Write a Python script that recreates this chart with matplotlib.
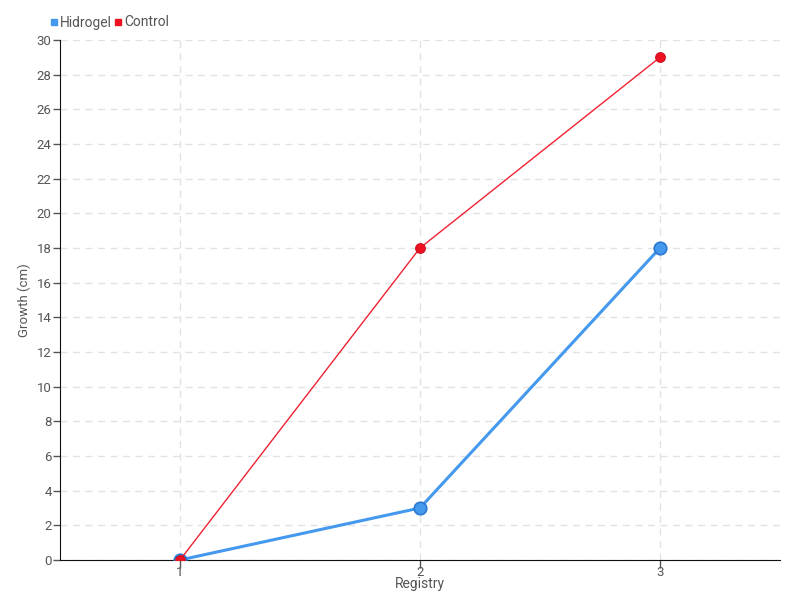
import matplotlib.pyplot as plt
from matplotlib.lines import Line2D

registry = [1, 2, 3]
hidrogel = [0, 3, 18]
control = [0, 18, 29]
y_ticks = list(range(0, 31, 2))

plt.rcParams['font.family'] = ['Roboto', 'DejaVu Sans']

fig = plt.figure(figsize=(8, 6), dpi=100)
ax = fig.add_axes([0.075, 0.0667, 0.9, 0.8667])

ax.plot(registry, hidrogel, color='#4499ee', linewidth=2.2, marker='o',
        markersize=9, markerfacecolor='#4499ee', markeredgecolor='#2a78d0',
        markeredgewidth=1.2, zorder=3)
ax.plot(registry, control, color='#ee2233', linewidth=1, marker='o',
        markersize=7, markerfacecolor='#ee1122', markeredgecolor='#cc1122',
        markeredgewidth=0.8, zorder=4)

ax.set_xlim(0.5, 3.5)
ax.set_ylim(0, 30)
ax.set_xticks(registry)
ax.set_yticks(y_ticks)
ax.tick_params(colors='#555555', labelsize=9.5, length=5, width=1)
ax.tick_params(axis='x', pad=-2, length=6)
ax.tick_params(axis='y', pad=1)
ax.grid(True, linestyle=(0, (5, 4)), color='#e2e2e2', linewidth=1)
ax.set_axisbelow(True)
for s in ['top', 'right']:
    ax.spines[s].set_visible(False)
ax.spines['left'].set_color('#111111')
ax.spines['bottom'].set_color('#111111')

ax.set_xlabel('Registry', color='#555555', fontsize=10, labelpad=-1)
ax.set_ylabel('Growth (cm)', color='#555555', fontsize=9.5)
ax.yaxis.set_label_coords(-0.04, 0.5)

handles = [Line2D([], [], linestyle='none', marker='s', markersize=5,
                  color='#4499ee', label='Hidrogel'),
           Line2D([], [], linestyle='none', marker='s', markersize=5,
                  color='#ee1122', label='Control')]
fig.legend(handles=handles, loc='upper left', bbox_to_anchor=(0.045, 0.995),
           ncol=2, frameon=False, fontsize=10, handletextpad=0.0,
           columnspacing=0.1, handlelength=0.8, labelcolor='#555555')

fig.savefig('out.png', dpi=100)
